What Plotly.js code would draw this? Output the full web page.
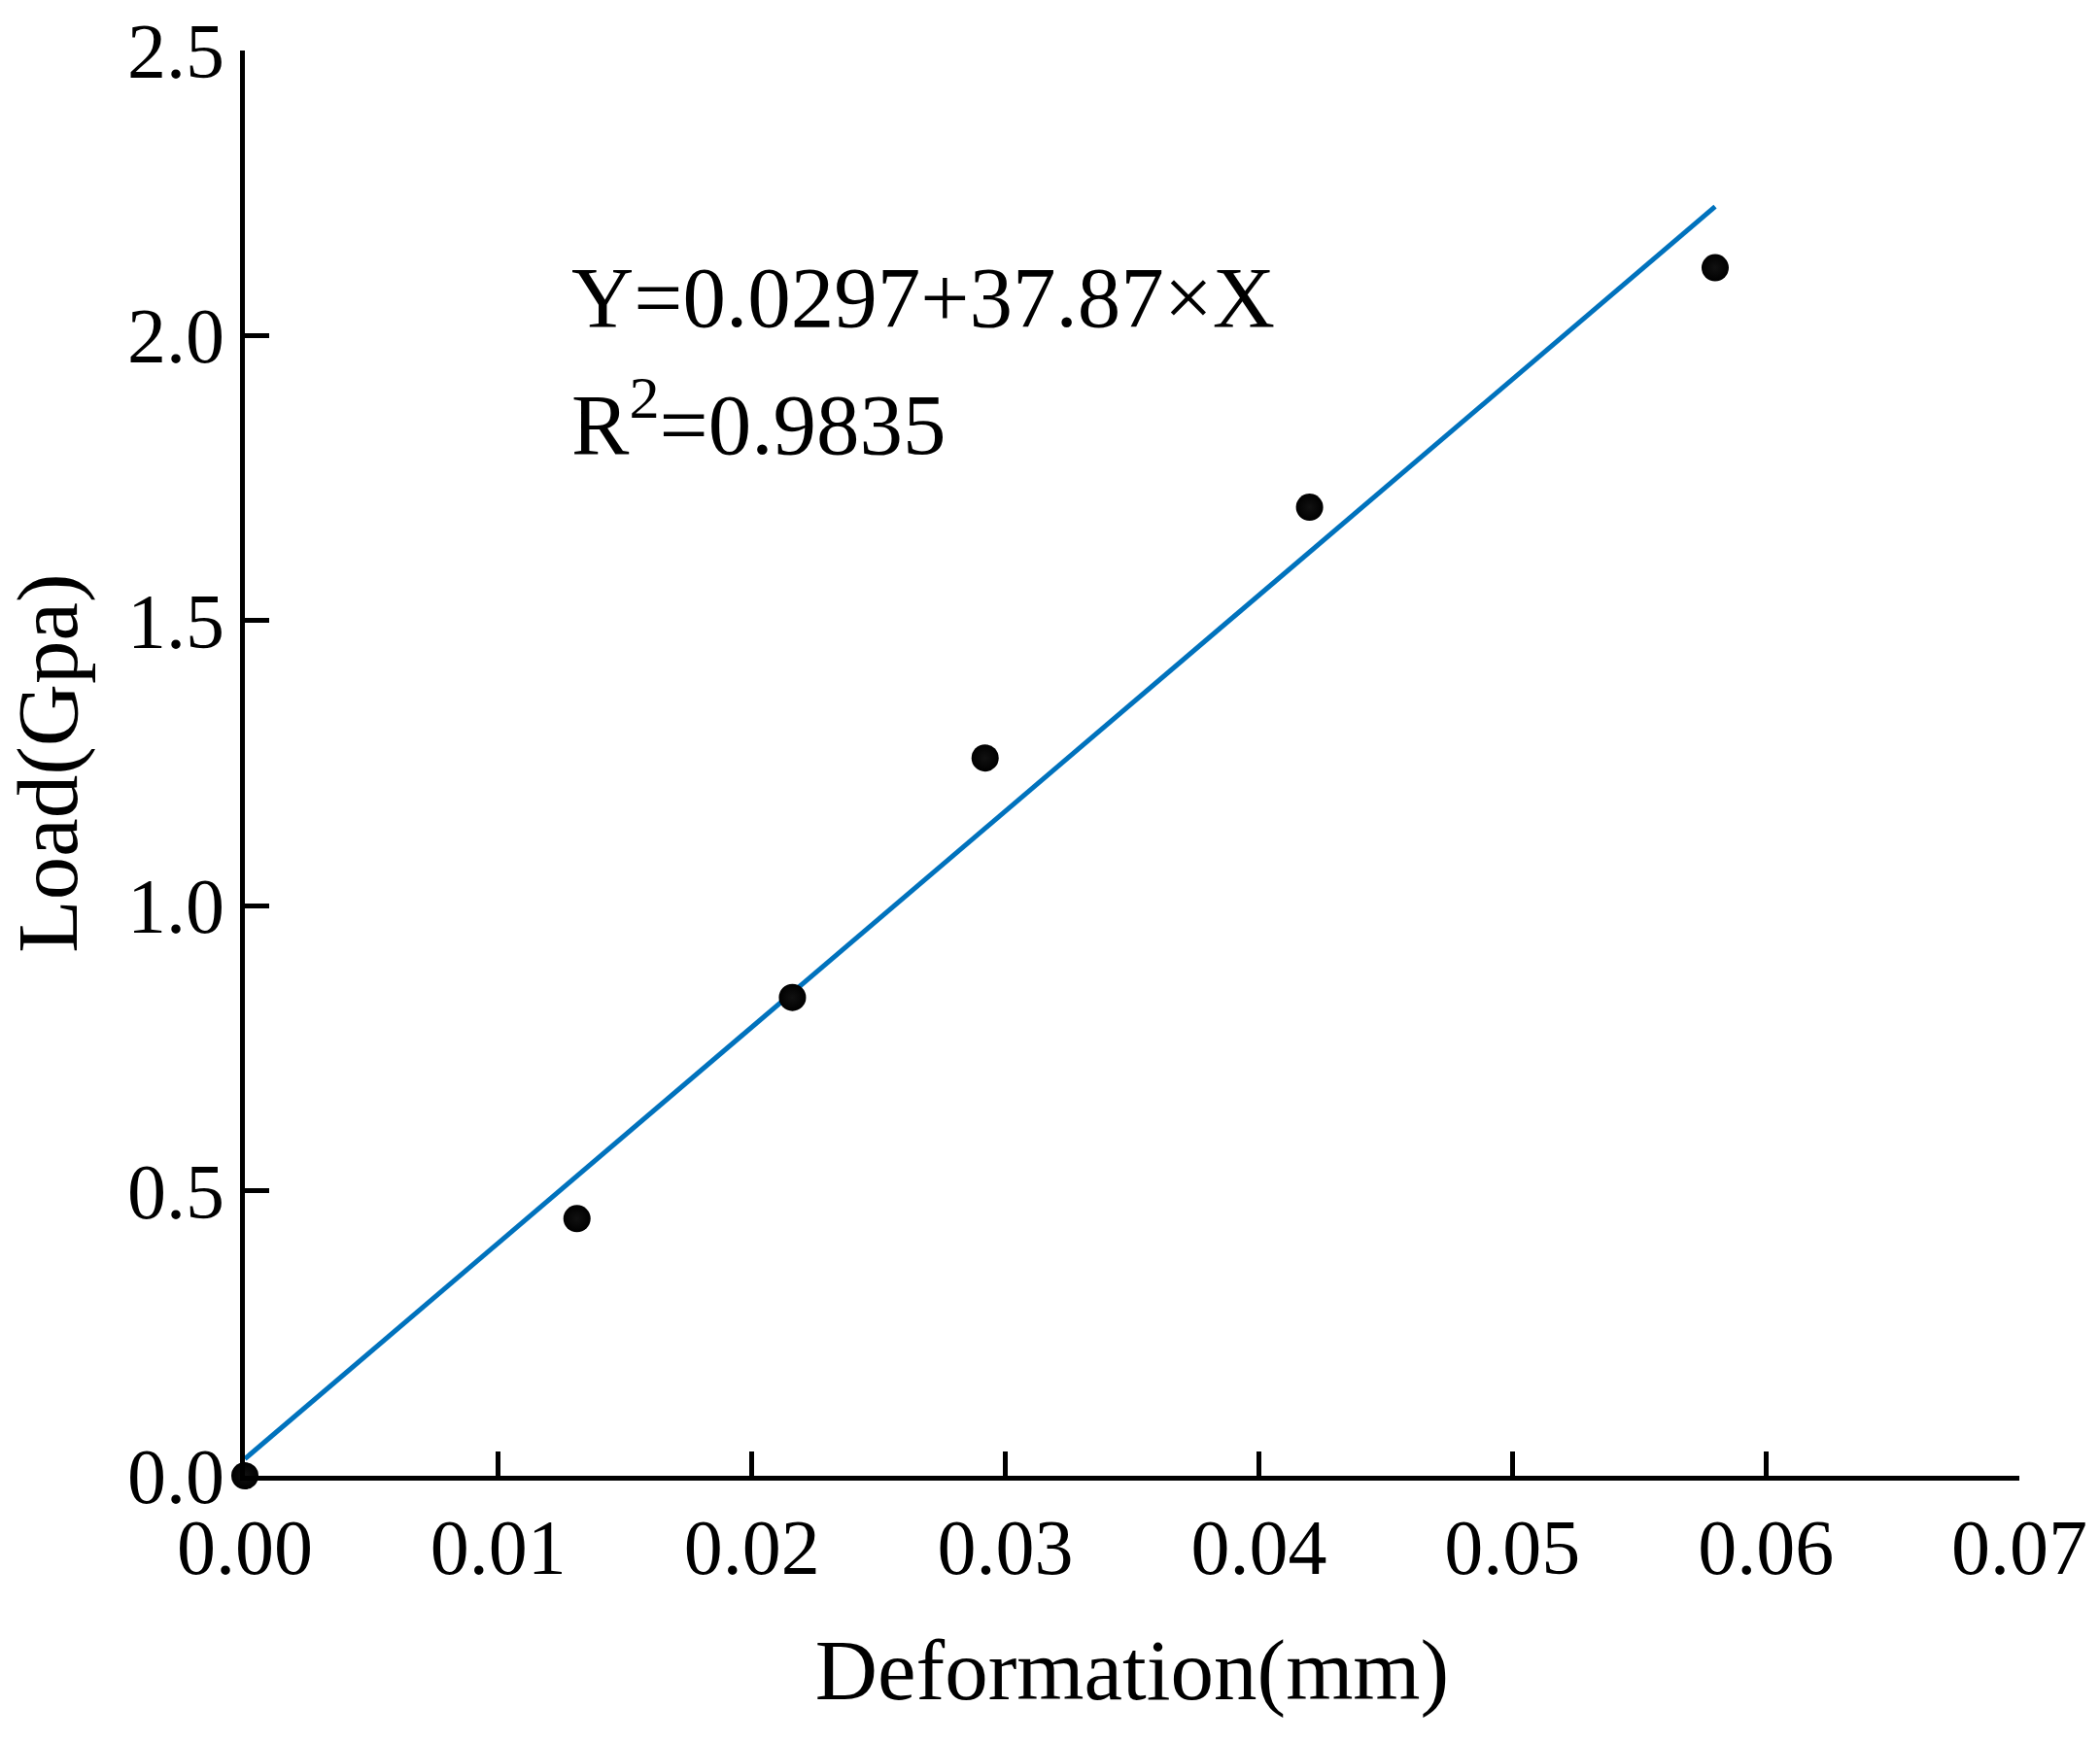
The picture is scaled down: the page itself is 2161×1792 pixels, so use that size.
<!DOCTYPE html>
<html>
<head>
<meta charset="utf-8">
<script src="https://cdn.plot.ly/plotly-3.0.1.min.js"></script>
<style>
  html, body { margin: 0; padding: 0; background: #fff; }
  #chart { width: 2161px; height: 1792px; }
</style>
</head>
<body>
<div id="chart"></div>
<script>
// measured points (deformation in mm, load in GPa)
const deformation = [0.0, 0.0131, 0.0216, 0.0292, 0.0420, 0.0580];
const load = [0.0, 0.451, 0.839, 1.259, 1.699, 2.119];

// fitted line coefficients, as printed on the chart
const fitIntercept = 0.0297;
const fitSlope = 37.87;
const fitRange = [0.0, 0.058];

const xTicks = [0, 0.01, 0.02, 0.03, 0.04, 0.05, 0.06, 0.07];
const yTicks = [0, 0.5, 1.0, 1.5, 2.0, 2.5];

const font = 'Liberation Serif, Times New Roman, serif';

const fitLine = {
  x: fitRange,
  y: fitRange.map(x => fitIntercept + fitSlope * x),
  mode: 'lines',
  line: { color: '#0072bd', width: 5 },
  hoverinfo: 'skip'
};

const points = {
  x: deformation, y: load, mode: 'markers',
  marker: {
    size: 28, color: '#000',
    gradient: { type: 'radial', color: '#111' },
    line: { width: 0 }
  },
  cliponaxis: false
};

const axisCommon = {
  showgrid: false, zeroline: false,
  showline: true, linecolor: '#000', linewidth: 5,
  ticks: 'inside', ticklen: 25, tickwidth: 5, tickcolor: '#000',
  tickfont: { family: font, size: 80, color: '#000' },
  mirror: false
};

const layout = {
  width: 2161, height: 1792,
  margin: { l: 252, r: 83, t: 52, b: 273 },
  paper_bgcolor: 'white', plot_bgcolor: 'white',
  showlegend: false,
  xaxis: Object.assign({}, axisCommon, {
    range: [0, 0.07], tickvals: xTicks, tickformat: '.2f',
    title: { text: 'Deformation(mm)', font: { family: font, size: 89, color: '#000' }, standoff: 52 }
  }),
  yaxis: Object.assign({}, axisCommon, {
    range: [0, 2.5], tickvals: yTicks, tickformat: '.1f',
    title: { text: 'Load(Gpa)', font: { family: font, size: 89, color: '#000' }, standoff: 30 }
  }),
  annotations: [
    { xref: 'x', yref: 'y', x: 0.0128, y: 2.068, xanchor: 'left', yanchor: 'middle',
      text: 'Y=0.0297+37.87×X', showarrow: false,
      font: { family: font, size: 89, color: '#000' } },
    { xref: 'x', yref: 'y', x: 0.0128, y: 1.856, xanchor: 'left', yanchor: 'middle',
      text: 'R<sup>2</sup>=0.9835', showarrow: false,
      font: { family: font, size: 89, color: '#000' } }
  ]
};

Plotly.newPlot('chart', [fitLine, points], layout, { displayModeBar: false, staticPlot: true });
</script>
</body>
</html>
